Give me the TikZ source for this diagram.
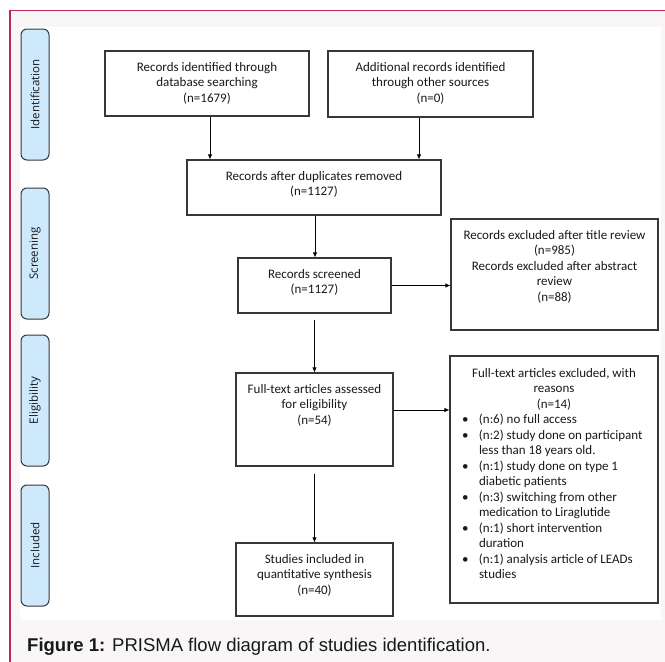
\documentclass[tikz,border=0pt]{standalone}
\usepackage{fontspec}
\setmainfont{Carlito}
\newfontfamily\labfont{Open Sans}
\newfontfamily\capfont{Liberation Sans}
\usetikzlibrary{arrows.meta}
\definecolor{framecol}{RGB}{190,40,80}
\definecolor{bgcol}{RGB}{248,246,246}
\definecolor{labfill}{RGB}{205,233,251}
\definecolor{boxline}{RGB}{55,55,55}
\definecolor{txtcol}{RGB}{25,25,25}
\newcommand{\bxt}[3]{\parbox[c][#2][t]{#1}{\centering\rule{0pt}{20pt}#3}}
\newcommand{\bitem}{\hangindent=17pt\hangafter=1\makebox[17pt][l]{\textbullet}}
\begin{document}
\begin{tikzpicture}[x=1pt,y=-1pt,
  flowbox/.style={draw=boxline,line width=1.1pt,inner sep=0pt,fill=white,
    text=txtcol,font=\fontsize{13}{15.5}\selectfont},
  phase/.style={draw=boxline,line width=1pt,fill=labfill,rounded corners=6pt,
    minimum width=28pt,inner sep=0pt},
  phasetext/.style={rotate=90,font=\labfont\fontsize{11.5}{13}\selectfont,text=txtcol},
  arr/.style={draw=black,line width=0.8pt,-{Latex[length=5pt,width=4.5pt]}}]
\useasboundingbox (0,0) rectangle (665,662);
% frame
\fill[bgcol] (10,10) rectangle (665,662);
\fill[white] (20,27) rectangle (661,620);
\draw[framecol,line width=1.4pt] (10,662) -- (10,10.5) -- (665,10.5);
% phase labels
\node[phase,minimum height=131pt] (idl) at (35,94.5) {};
\node[phasetext] (idt) at (idl.center) {Identification};
\node[phase,minimum height=131pt] (scl) at (35,253.5) {};
\node[phasetext] (sct) at (scl.center) {Screening};
\node[phase,minimum height=131pt] (ell) at (35,400.5) {};
\node[phasetext] (elt) at (ell.center) {Eligibility};
\node[phase,minimum height=121pt] (inl) at (35,545.5) {};
\node[phasetext] (int) at (inl.center) {Included};
% boxes
\node[flowbox] (b1) at (207,83.5) {\bxt{204pt}{65pt}{Records identified through\\database searching\\(n=1679)}};
\node[flowbox] (b2) at (430.5,84) {\bxt{205pt}{66pt}{Additional records identified\\through other sources\\(n=0)}};
\node[flowbox] (b3) at (314,187.5) {\bxt{254pt}{55pt}{Records after duplicates removed\\(n=1127)}};
\node[flowbox] (b4) at (314.5,285.5) {\bxt{153pt}{55pt}{Records screened\\(n=1127)}};
\node[flowbox] (ex1) at (554.5,274.5) {\bxt{207pt}{111pt}{Records excluded after title review\\(n=985)\\Records excluded after abstract\\review\\(n=88)}};
\node[flowbox] (b5) at (314.5,419.5) {\bxt{157pt}{93pt}{Full-text articles assessed\\for eligibility\\(n=54)}};
\node[flowbox] (ex2) at (554,479.5) {\parbox[c][247pt][t]{208pt}{%
  {\centering\rule{0pt}{21pt}Full-text articles excluded, with\\reasons\\(n=14)\par}
  \leftskip=12pt\rightskip=6pt plus 1fil\parindent=0pt
  \bitem(n:6) no full access\par
  \bitem(n:2) study done on participant\\less than 18 years old.\par
  \bitem(n:1) study done on type 1\\diabetic patients\par
  \bitem(n:3) switching from other\\medication to Liraglutide\par
  \bitem(n:1) short intervention\\duration\par
  \bitem(n:1) analysis article of LEADs\\studies\par}};
\node[flowbox] (b6) at (314.5,579.5) {\bxt{157pt}{73pt}{Studies included in\\quantitative synthesis\\(n=40)}};
% arrows
\draw[arr] ([xshift=3pt]b1.south) -- ([xshift=3pt]b1.south |- b3.north);
\draw[arr] ([xshift=-11.5pt]b2.south) -- ([xshift=-11.5pt]b2.south |- b3.north);
\draw[arr] ([xshift=1pt]b3.south) -- ([xshift=1pt]b3.south |- b4.north);
\draw[arr] (b4.east) -- (b4.east -| ex1.west);
\draw[arr] ([yshift=-6pt]b4.south) -- (b4.south |- b5.north);
\coordinate (e2y) at (393,410);
\draw[arr] (e2y -| b5.east) -- (e2y -| ex2.west);
\draw[arr] ([yshift=-7pt]b5.south) -- (b5.south |- b6.north);
% caption
\node[anchor=base west,inner sep=0pt,font=\capfont\fontsize{18.5}{20}\selectfont,text=txtcol] (cap) at (27,651)
  {\textbf{Figure 1:} PRISMA flow diagram of studies identification.};
\end{tikzpicture}
\end{document}
